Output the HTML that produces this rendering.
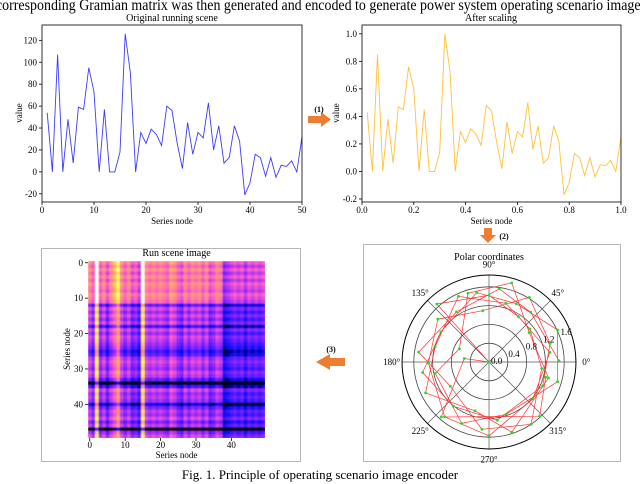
<!DOCTYPE html>
<html><head><meta charset="utf-8"><style>
html,body{margin:0;padding:0;background:#fff;width:640px;height:484px;overflow:hidden}
svg{display:block;font-family:"Liberation Serif",serif}
</style></head><body>
<svg id="fig" width="640" height="484" viewBox="0 0 640 484" xmlns="http://www.w3.org/2000/svg">
<defs>
<filter id="blur" x="0" y="0" width="1" height="1"><feGaussianBlur stdDeviation="0.6"/></filter>
<clipPath id="hmclip"><rect x="88" y="261" width="177" height="177"/></clipPath>
</defs>
<text x="-4" y="10" font-size="15.5" textLength="650" lengthAdjust="spacingAndGlyphs">corresponding Gramian matrix was then generated and encoded to generate power system operating scenario images</text>

<g id="p1"></g>
<g id="p2"></g>

<g>
<polygon points="308,116 321,116 321,112 331,119.5 321,127 321,123 308,123" fill="#ed7d31"/>
<text x="319" y="112" font-size="8" font-weight="bold" text-anchor="middle">(1)</text>
</g>
<g>
<polygon points="484,228 492,228 492,235 496,235 488,243 480,235 484,235" fill="#ed7d31"/>
<text x="504" y="239" font-size="8" font-weight="bold" text-anchor="middle">(2)</text>
</g>
<g>
<polygon points="345,358 330,358 330,354 316,362 330,370 330,366 345,366" fill="#ed7d31"/>
<text x="331" y="352" font-size="8" font-weight="bold" text-anchor="middle">(3)</text>
</g>

<rect x="41.5" y="248.5" width="259" height="213" fill="none" stroke="#b5b5b5"/>
<rect x="363.5" y="244.5" width="257" height="217" fill="none" stroke="#b5b5b5"/>
<g id="hm"></g>
<g id="pol"></g>

<text x="320" y="479" font-size="13" text-anchor="middle">Fig. 1. Principle of operating scenario image encoder</text>
</svg>
<script>
const origValues=[54,0,107,0,48,8,59,57,95,73,0,57,0,0,18,126,90,0,36,26,39,34,24,60,56,26,3,45,16,36,31,63,20,42,8,13,42,28,-21,-10,16,13,-4,13,-5,6,5,10,0,32];
const origTicksX=[0,10,20,30,40,50];
const origTicksY=[-20,0,20,40,60,80,100,120];
const scaledValues=[.43,0,.85,0,.38,.06,.47,.45,.76,.6,0,.45,0,0,.14,1.0,.72,0,.29,.21,.31,.27,.19,.48,.44,.21,.02,.36,.13,.29,.25,.5,.16,.33,.06,.10,.33,.22,-.17,-.08,.13,.10,-.03,.10,-.04,.05,.04,.08,0,.25];
const scaledTicksX=["0.0","0.2","0.4","0.6","0.8","1.0"];
const scaledTicksY=["-0.2","0.0","0.2","0.4","0.6","0.8","1.0"];
const hmCols=[.6,.5,1,.5,.6,.45,.6,.7,.85,.6,.5,.6,.45,.5,.4,1,.6,.55,.6,.55,.6,.55,.5,.65,.6,.5,.45,.6,.5,.6,.55,.6,.5,.6,.45,.5,.6,.55,.3,.35,.4,.45,.4,.45,.35,.45,.4,.45,.4,.45];
const hmRows=[.8,.7,.8,.7,.8,.7,.8,.75,.7,.8,.75,.7,.4,.6,.5,.6,.5,.6,.35,.6,.5,.6,.55,.5,.45,.35,.4,.55,.6,.55,.5,.6,.55,.4,0,.35,.6,.5,.55,.5,.25,.45,.55,.5,.6,.45,.55,0,.5,.6];
const hmTicks=[0,10,20,30,40];
const polarAngles=[74,82,58,65,50,57,39,25,17,1,353,345,344,336,320,313,304,288,288,278,270,264,246,231,254,231,206,189,181,172,164,148,140,132,123,115,100,90,97,172,156,212,0,9,345,229,107,192,36,74];
const polarRadii=[1.75,1.57,1.62,1.37,1.38,1.15,1.12,1.61,1.36,1.49,1.13,1.25,1.52,1.25,1.22,1.58,1.6,1.57,1.17,1.25,1.57,1.44,1.43,1.5,1.08,1.21,1.5,1.43,1.29,1.51,1.19,1.21,1.42,1.66,1.27,1.54,1.5,1.42,1.1,.53,.69,.97,0,1.31,1.31,1.55,1.53,1.17,1.06,1.3];
const polarOrder=[9,4,1,34,29,41,21,16,10,6,49,35,30,26,24,17,44,48,0,46,40,47,22,18,12,7,3,36,31,27,25,19,13,8,2,38,32,28,23,20,14,43,5,37,33,42,39,45,15,11];
const polarRings=[0.4,0.8,1.2,1.6];
const polarRingLabels=["0.0","0.4","0.8","1.2","1.6"];
const polarAngleLabels=["0°","45°","90°","135°","180°","225°","270°","315°"];

const NS="http://www.w3.org/2000/svg";
function mk(parent,tag,attrs,text){const e=document.createElementNS(NS,tag);for(const k in attrs)e.setAttribute(k,attrs[k]);if(text!==undefined)e.textContent=text;parent.appendChild(e);return e;}

function lineChart(g,cfg){
  const {x0,x1,y0,y1,xmin,xmax,ymin,ymax,vals,xOf,color,xt,xtl,yt,ytl,title,tx,ylx}=cfg;
  const X=v=>x0+(v-xmin)/(xmax-xmin)*(x1-x0);
  const Y=v=>y1-(v-ymin)/(ymax-ymin)*(y1-y0);
  const t=mk(g,'text',{x:tx,y:21,'font-size':10,'text-anchor':'middle'},title);
  
  
  xt.forEach((v,i)=>{
    const tk=mk(g,'line',{x1:X(v),x2:X(v),y1:y1,y2:y1+3,stroke:'#000','stroke-width':0.8});
    
    
    const l=mk(g,'text',{x:X(v),y:213,'font-size':9,'text-anchor':'middle'},xtl[i]);
    
    
  });
  yt.forEach((v,i)=>{
    const tk=mk(g,'line',{x1:x0-3,x2:x0,y1:Y(v),y2:Y(v),stroke:'#000','stroke-width':0.8});
    
    
    const l=mk(g,'text',{x:x0-5,y:Y(v)+3,'font-size':9,'text-anchor':'end'},ytl[i]);
    
    
  });
  const xl=mk(g,'text',{x:(x0+x1)/2,y:224,'font-size':9,'text-anchor':'middle'},'Series node');
  
  
  const yl=mk(g,'text',{x:ylx,y:113,'font-size':9,'text-anchor':'middle',transform:`rotate(-90 ${ylx} 113)`},'value');
  
  
  const pts=vals.map((v,i)=>X(xOf(i)).toFixed(1)+','+Y(v).toFixed(1)).join(' ');
  const pl=mk(g,'polyline',{points:pts,fill:'none',stroke:color,'stroke-width':0.9});
  
  
  const box=mk(g,'rect',{x:x0,y:y0,width:x1-x0,height:y1-y0,fill:'none',stroke:'#000','stroke-width':0.8});
  
  
}
lineChart(document.getElementById('p1'),{x0:42,x1:302,y0:25,y1:202,xmin:0,xmax:50,ymin:-27.5,ymax:134,vals:origValues,xOf:i=>i+1,color:'#3b3bff',
  xt:origTicksX,xtl:origTicksX.map(String),yt:origTicksY,ytl:origTicksY.map(String),title:'Original running scene',tx:172,ylx:22});
lineChart(document.getElementById('p2'),{x0:362,x1:621,y0:25,y1:202,xmin:0,xmax:1,ymin:-0.222,ymax:1.064,vals:scaledValues,xOf:i=>(i+1)/50,color:'#ffc13b',
  xt:scaledTicksX.map(Number),xtl:scaledTicksX,yt:scaledTicksY.map(Number),ytl:scaledTicksY,title:'After scaling',tx:491,ylx:339});

// heatmap
(function(){
  const g=document.getElementById('hm');
  const hx0=88,hy0=261,cs=177/50;
  const stops=[[0,[0,0,0]],[0.2,[10,10,255]],[0.4,[150,40,255]],[0.56,[255,90,200]],[0.72,[255,160,110]],[0.88,[255,250,60]],[1,[255,255,255]]];
  function cmap(v){v=Math.max(0,Math.min(1,v));for(let k=1;k<stops.length;k++){if(v<=stops[k][0]){const a=stops[k-1],b=stops[k];const t=(v-a[0])/(b[0]-a[0]);return 'rgb('+a[1].map((c,j)=>Math.round(c+(b[1][j]-c)*t)).join(',')+')';}}return 'rgb(255,255,255)';}
  const t=mk(g,'text',{x:176.5,y:256,'font-size':10,'text-anchor':'middle'},'Run scene image');
  
  
  const cg=mk(g,'g',{'clip-path':'url(#hmclip)'});
  const ig=mk(cg,'g',{filter:'url(#blur)'});
  hmRows.forEach((r,i)=>{hmCols.forEach((c,j)=>{
    const cell=mk(ig,'rect',{x:(hx0+j*cs).toFixed(2),y:(hy0+i*cs).toFixed(2),width:(cs+0.4).toFixed(2),height:(cs+0.4).toFixed(2),fill:cmap(c*0.9+r*0.9-0.55)});
    
    
  });});
  hmTicks.forEach(v=>{
    const p=hx0+(v+0.5)*cs, q=hy0+(v+0.5)*cs;
    mk(g,'line',{x1:p,x2:p,y1:438,y2:441,stroke:'#000','stroke-width':0.8});
    const xl=mk(g,'text',{x:p,y:448,'font-size':9,'text-anchor':'middle'},String(v));
    
    
    mk(g,'line',{x1:hx0-3,x2:hx0,y1:q,y2:q,stroke:'#000','stroke-width':0.8});
    const yl=mk(g,'text',{x:hx0-5,y:q+3,'font-size':9,'text-anchor':'end'},String(v));
    
    
  });
  const xa=mk(g,'text',{x:176.5,y:458,'font-size':9,'text-anchor':'middle'},'Series node');
  
  
  const ya=mk(g,'text',{x:70,y:349,'font-size':9,'text-anchor':'middle',transform:'rotate(-90 70 349)'},'Series node');
  
  
})();

// polar
(function(){
  const g=document.getElementById('pol');
  const cx=489,cy=362,u=47,rmax=1.85;
  const P=(a,r)=>[cx+Math.cos(a*Math.PI/180)*r*u, cy-Math.sin(a*Math.PI/180)*r*u];
  const t=mk(g,'text',{x:489,y:260,'font-size':10,'text-anchor':'middle'},'Polar coordinates');
  
  
  polarRings.forEach(r=>{
    const c=mk(g,'circle',{cx,cy,r:r*u,fill:'none',stroke:'#444','stroke-width':0.8});
    
    
  });
  polarAngleLabels.forEach((lab,k)=>{
    const a=k*45;const e=P(a,rmax);
    const s=mk(g,'line',{x1:cx,y1:cy,x2:e[0],y2:e[1],stroke:'#555','stroke-width':0.7});
    
    
    const lp=P(a,rmax+0.22);
    const l=mk(g,'text',{x:lp[0],y:lp[1]+3,'font-size':9,'text-anchor':'middle'},lab);
    
    
  });
  const oc=mk(g,'circle',{cx,cy,r:rmax*u,fill:'none',stroke:'#000','stroke-width':1});
  
  
  const pts=polarOrder.map(i=>P(polarAngles[i],polarRadii[i]).map(v=>v.toFixed(1)).join(',')).join(' ');
  const pl=mk(g,'polyline',{points:pts,fill:'none',stroke:'#ff3030','stroke-width':0.7});
  
  
  polarRingLabels.forEach((lab,k)=>{
    const p=P(22.5,k*0.4);
    const l=mk(g,'text',{x:p[0]+2,y:p[1]+2,'font-size':9,'text-anchor':'start'},lab);
    
    
  });
  polarAngles.forEach((a,i)=>{
    const p=P(a,polarRadii[i]);
    const d=mk(g,'circle',{cx:p[0].toFixed(1),cy:p[1].toFixed(1),r:1.4,fill:'#22dd22'});
    
    
  });
})();
</script>
</body></html>
